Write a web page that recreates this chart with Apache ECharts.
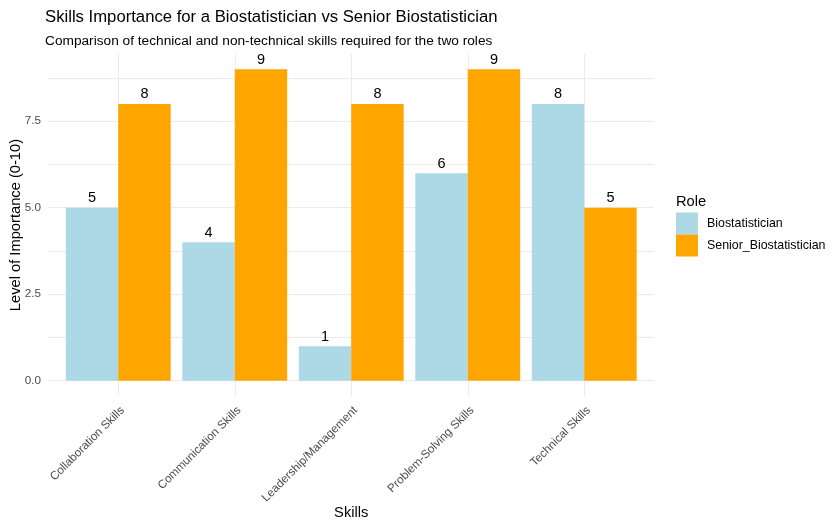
<!DOCTYPE html>
<html>
<head>
<meta charset="utf-8">
<script src="https://cdn.jsdelivr.net/npm/echarts@6/dist/echarts.min.js"></script>
<style>html,body{margin:0;padding:0;background:#fff;}#c{width:833px;height:526px;}</style>
</head>
<body>
<div id="c"></div>
<script>
const categories = ['Collaboration Skills', 'Communication Skills', 'Leadership/Management', 'Problem-Solving Skills', 'Technical Skills'];
const roles = ['Biostatistician', 'Senior_Biostatistician'];
const bioValues = [5, 4, 1, 6, 8];
const seniorValues = [8, 9, 8, 9, 5];
const yTickLabels = [0, 2.5, 5, 7.5];

const FONT = "'Liberation Sans', Arial, sans-serif";
const chart = echarts.init(document.getElementById('c'));
const gridColor = '#EBEBEB';

chart.setOption({
  animation: false,
  backgroundColor: '#fff',
  textStyle: { fontFamily: FONT },
  title: [
    { text: 'Skills Importance for a Biostatistician vs Senior Biostatistician', left: 40, top: 4,
      textStyle: { fontFamily: FONT, fontSize: 16.7, fontWeight: 'normal', color: '#000' } },
    { text: 'Comparison of technical and non-technical skills required for the two roles', left: 40, top: 29,
      textStyle: { fontFamily: FONT, fontSize: 13.7, fontWeight: 'normal', color: '#000' } },
    { text: 'Role', left: 671, top: 189,
      textStyle: { fontFamily: FONT, fontSize: 14.7, fontWeight: 'normal', color: '#000' } }
  ],
  legend: {
    orient: 'vertical', left: 676, top: 212.5, padding: 0, itemGap: 0,
    itemWidth: 22, itemHeight: 22, icon: 'rect',
    data: roles,
    textStyle: { fontFamily: FONT, fontSize: 12.4, color: '#000', padding: [0, 0, 0, 4] }
  },
  grid: [
    { left: 48, right: 179, top: 78.0, bottom: 145.3, outerBoundsMode: 'none', containLabel: false },
    { left: 60, width: 582.5, top: 53.8, bottom: 129.7, outerBoundsMode: 'none', containLabel: false },
    { left: 118.3, right: 248.7, top: 53.8, bottom: 129.7, outerBoundsMode: 'none', containLabel: false }
  ],
  xAxis: [
    { gridIndex: 0, type: 'value', min: 0, max: 1, show: false },
    { gridIndex: 1, type: 'category', data: categories, boundaryGap: true,
      axisLine: { show: false }, axisTick: { show: false }, splitLine: { show: false },
      axisLabel: { rotate: 45, margin: 8, interval: 0, align: 'right', verticalAlign: 'top',
        color: '#4D4D4D', fontSize: 11.7, fontFamily: FONT },
      name: 'Skills', nameLocation: 'middle', nameGap: 109, nameMoveOverlap: false,
      nameTextStyle: { color: '#000', fontSize: 14.7, fontFamily: FONT } },
    { gridIndex: 2, type: 'category', data: categories, boundaryGap: false,
      axisLine: { show: false }, axisTick: { show: false }, axisLabel: { show: false },
      splitLine: { show: true, interval: 0, lineStyle: { color: gridColor, width: 1 } } }
  ],
  yAxis: [
    { gridIndex: 0, type: 'value', min: 0, max: 8.75, interval: 1.25,
      axisLine: { show: false }, axisTick: { show: false },
      splitLine: { show: true, lineStyle: { color: gridColor, width: 1 } },
      axisLabel: { margin: 7, color: '#4D4D4D', fontSize: 11.7, fontFamily: FONT,
        formatter: function (v) { return yTickLabels.indexOf(v) >= 0 ? v.toFixed(1) : ''; } } },
    { gridIndex: 1, type: 'value', min: -0.45, max: 9.45,
      axisLine: { show: false }, axisTick: { show: false }, axisLabel: { show: false }, splitLine: { show: false },
      name: 'Level of Importance (0-10)', nameLocation: 'middle', nameGap: 37,
      nameTextStyle: { color: '#000', fontSize: 14.7, fontFamily: FONT } },
    { gridIndex: 2, type: 'value', min: 0, max: 1, show: false }
  ],
  series: [
    { name: roles[0], type: 'bar', xAxisIndex: 1, yAxisIndex: 1, data: bioValues,
      barGap: '0%', barCategoryGap: '10%', itemStyle: { color: '#ADD8E6' },
      label: { show: true, position: 'top', distance: 2, color: '#000', fontSize: 14.5, fontFamily: FONT } },
    { name: roles[1], type: 'bar', xAxisIndex: 1, yAxisIndex: 1, data: seniorValues,
      barGap: '0%', barCategoryGap: '10%', itemStyle: { color: '#FFA500' },
      label: { show: true, position: 'top', distance: 2, color: '#000', fontSize: 14.5, fontFamily: FONT } }
  ]
});
</script>
</body>
</html>
